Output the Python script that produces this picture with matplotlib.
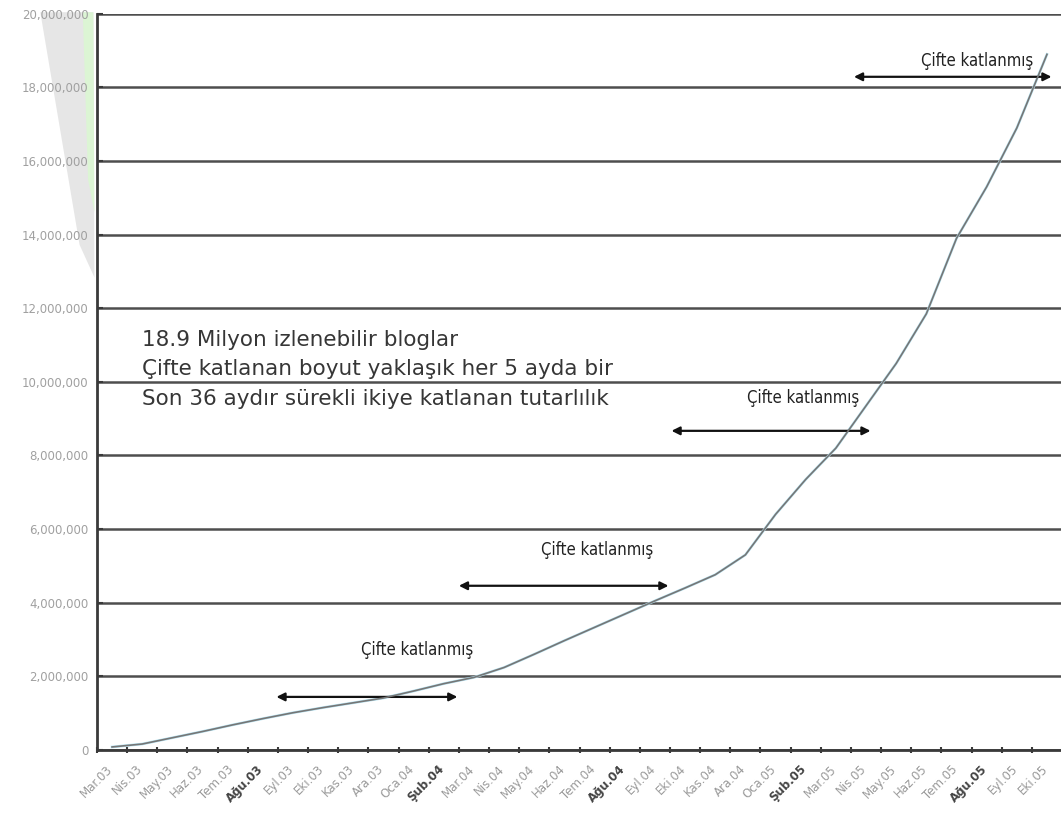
#!/usr/bin/env python3
"""Blog sayisi buyume grafigi (Mar.03 - Eki.05)"""

import matplotlib
matplotlib.use('Agg')
import matplotlib.pyplot as plt
from matplotlib.ticker import FuncFormatter, MultipleLocator
from matplotlib.patches import Polygon
from matplotlib.transforms import ScaledTranslation

plt.rcParams['font.family'] = ['DejaVu Sans']

# Data (values in blogs)
months = ['Mar.03', 'Nis.03', 'May.03', 'Haz.03', 'Tem.03', 'Ağu.03', 'Eyl.03', 'Eki.03',
          'Kas.03', 'Ara.03', 'Oca.04', 'Şub.04', 'Mar.04', 'Nis.04', 'May.04', 'Haz.04',
          'Tem.04', 'Ağu.04', 'Eyl.04', 'Eki.04', 'Kas.04', 'Ara.04', 'Oca.05', 'Şub.05',
          'Mar.05', 'Nis.05', 'May.05', 'Haz.05', 'Tem.05', 'Ağu.05', 'Eyl.05', 'Eki.05']
blogs_m = [0.08, 0.16, 0.33, 0.50, 0.68, 0.85, 1.01, 1.15, 1.28, 1.41, 1.60, 1.80,
           1.97, 2.24, 2.60, 2.97, 3.33, 3.69, 4.05, 4.40, 4.76, 5.30, 6.40, 7.35,
           8.20, 9.35, 10.50, 11.85, 13.90, 15.30, 16.90, 18.90]
bold_months = ['Ağu.03', 'Şub.04', 'Ağu.04', 'Şub.05', 'Ağu.05']

info_lines = ['18.9 Milyon izlenebilir bloglar',
              'Çifte katlanan boyut yaklaşık her 5 ayda bir',
              'Son 36 aydır sürekli ikiye katlanan tutarlılık']
doubling_label = 'Çifte katlanmış'

values = [v * 1_000_000 for v in blogs_m]
x = list(range(len(months)))

fig = plt.figure(figsize=(10.61, 8.16), dpi=100)
ax = fig.add_axes([0.0914, 0.081, 0.9096, 0.902])

# faint screenshot artefacts behind the y labels
fig.patches.append(Polygon([[0.038, 0.985], [0.088, 0.985], [0.089, 0.66], [0.075, 0.70]],
                           closed=True, transform=fig.transFigure,
                           facecolor='#e6e6e6', edgecolor='none', zorder=-5))
fig.patches.append(Polygon([[0.078, 0.985], [0.088, 0.985], [0.089, 0.74], [0.083, 0.78]],
                           closed=True, transform=fig.transFigure,
                           facecolor='#dcf5d4', edgecolor='none', zorder=-5))

ax.plot(x, values, color='#b5e3f2', linewidth=1.9, zorder=3)
ax.plot(x, values, color='#767676', linewidth=1.2, zorder=4)

ax.set_xlim(-0.5, 31.5)
ax.set_ylim(0, 20_000_000)
ax.yaxis.set_major_locator(MultipleLocator(2_000_000))
ax.yaxis.set_major_formatter(FuncFormatter(lambda v, p: f'{int(v):,}'))
ax.grid(axis='y', color='#4e4e4e', linewidth=1.8)
ax.set_axisbelow(True)

for s in ['top', 'right']:
    ax.spines[s].set_visible(False)
for s in ['left', 'bottom']:
    ax.spines[s].set_color('#3a3a3a')
    ax.spines[s].set_linewidth(2)

ax.set_xticks(x)
ax.set_xticklabels(months, rotation=45, ha='right', rotation_mode='anchor')
ax.set_xticks([i - 0.5 for i in range(len(months))], minor=True)
ax.tick_params(axis='x', which='major', length=0, pad=9, labelsize=8.5, labelcolor='#9a9a9a')
ax.tick_params(axis='x', which='minor', length=5, width=1.5, direction='inout', color='#3a3a3a')
ax.tick_params(axis='y', length=4, width=1.5, direction='in', color='#3a3a3a',
               labelsize=8.5, labelcolor='#a0a0a0', pad=6)
shift = ScaledTranslation(-6 / 100, 0, fig.dpi_scale_trans)
for lab in ax.get_xticklabels():
    lab.set_transform(lab.get_transform() + shift)
    if lab.get_text() in bold_months:
        lab.set_fontweight('bold')
        lab.set_color('#444444')

# info text block
ax.text(1.0, 11_420_000, '\n'.join(info_lines), fontsize=15.5, color='#363636',
        va='top', ha='left', linespacing=1.6)

# doubling arrows: (start, end, arrow height, text x, text height)
arrows = [(5.45, 11.45, 1_440_000, 10.1, 2_720_000),
          (11.5, 18.45, 4_460_000, 16.1, 5_430_000),
          (18.55, 25.15, 8_670_000, 22.9, 9_570_000),
          (24.6, 31.15, 18_290_000, 28.7, 18_720_000)]
for x0, x1, ya, xt, yt in arrows:
    ax.annotate('', xy=(x0, ya), xytext=(x1, ya),
                arrowprops=dict(arrowstyle='<|-|>', color='#111111', lw=1.6,
                                mutation_scale=12, shrinkA=0, shrinkB=0))
    ax.text(xt, yt, doubling_label, ha='center', va='center', fontsize=12,
            color='#222222', family=['Liberation Sans Narrow', 'DejaVu Sans'],
            fontstretch='condensed')

plt.savefig('out.png', dpi=100)
